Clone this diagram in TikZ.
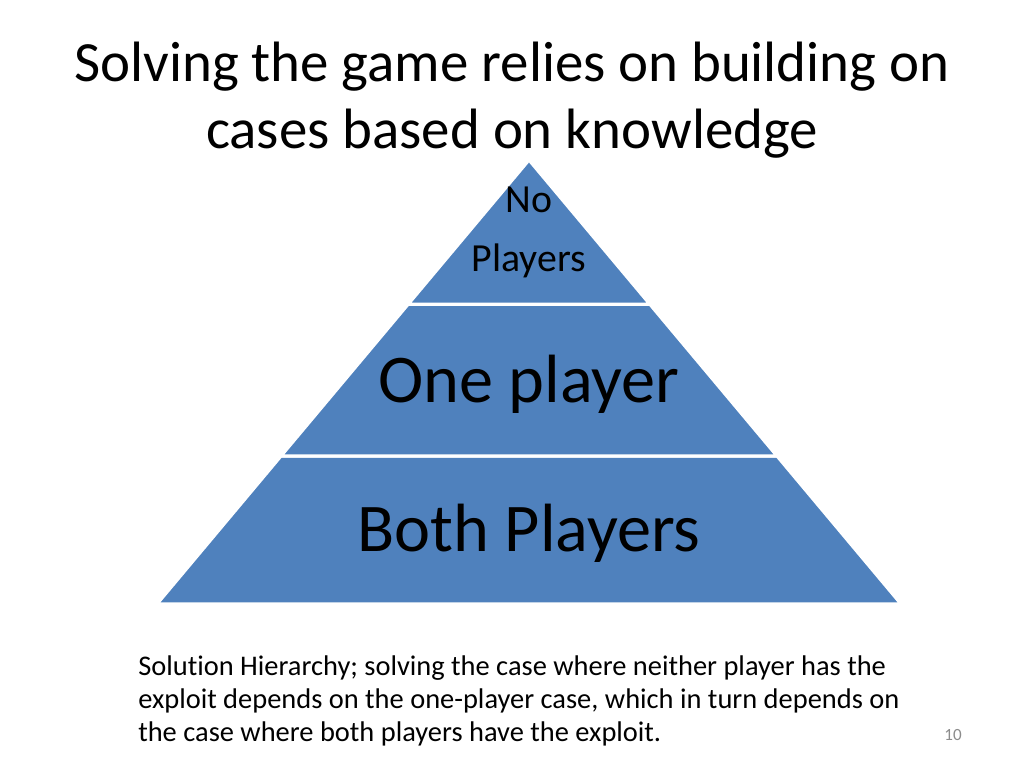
\documentclass[tikz,border=0pt]{standalone}
\usepackage{fontspec}
\setmainfont{Carlito}[Ligatures=NoCommon]
\usepackage{xcolor}
\usepackage{tikz}
\usetikzlibrary{calc}

\definecolor{pyrblue}{HTML}{4F81BD}
\definecolor{numgray}{HTML}{8C8C8C}

\begin{document}
\begin{tikzpicture}[
  x=0.703125pt, y=-0.703125pt,
  band/.style={fill=pyrblue, draw=white, line width=2.2pt, line join=miter},
  title/.style={font=\fontsize{40}{47}\selectfont, align=center, inner sep=0pt},
  tiertext/.style={inner sep=0pt, anchor=base},
  caption/.style={font=\fontsize{20}{23.4}\selectfont, align=left, anchor=north west, inner sep=0pt},
  pagenum/.style={font=\fontsize{12}{14}\selectfont, text=numgray, anchor=base, inner sep=0pt}
]
  % slide frame
  \path[use as bounding box, fill=white] (0,0) rectangle (1024,768);

  % title
  \node[title] (head) at (512,100) {Solving the game relies on building on\\cases based on knowledge};

  % pyramid corners
  \coordinate (apex) at (529,160);
  \coordinate (baseL) at (157,604);
  \coordinate (baseR) at (901,604);
  \coordinate (midL1) at ($(apex)!0.325!(baseL)$);
  \coordinate (midR1) at ($(apex)!0.325!(baseR)$);
  \coordinate (midL2) at ($(apex)!0.6667!(baseL)$);
  \coordinate (midR2) at ($(apex)!0.6667!(baseR)$);

  % bands, bottom to top
  \draw[band] (midL2) -- (midR2) -- (baseR) -- (baseL) -- cycle;
  \draw[band] (midL1) -- (midR1) -- (midR2) -- (midL2) -- cycle;
  \draw[band] (apex) -- (midR1) -- (midL1) -- cycle;

  % band labels
  \node[tiertext, font=\fontsize{28}{34}\selectfont] (none) at (529,213) {No};
  \node[tiertext, font=\fontsize{28}{34}\selectfont] (noneb) at (529,272) {Players};
  \node[tiertext, font=\fontsize{48}{58}\selectfont] (one) at (529,402) {One player};
  \node[tiertext, font=\fontsize{48}{58}\selectfont] (both) at (529,551) {Both Players};

  % caption and page number
  \node[caption] (note) at (138,655) {Solution Hierarchy; solving the case where neither player has the\\exploit depends on the one-player case, which in turn depends on\\the case where both players have the exploit.};
  \node[pagenum] (num) at (953,740) {10};
\end{tikzpicture}
\end{document}
